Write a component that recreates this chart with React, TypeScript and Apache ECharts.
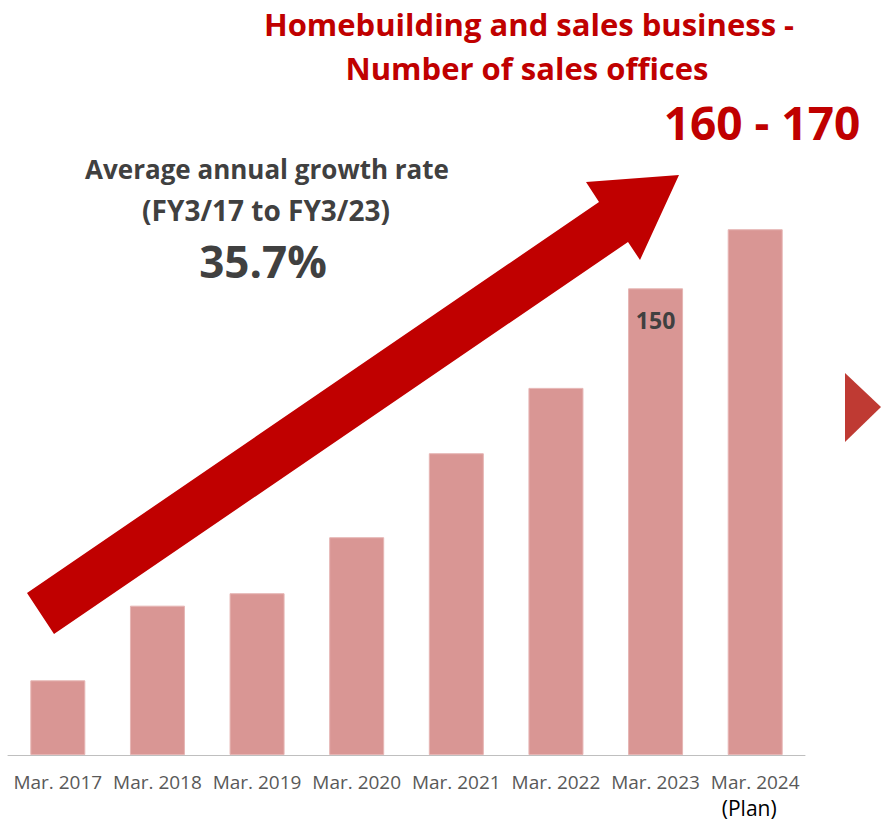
import React, { useEffect, useRef } from "react";
import * as echarts from "echarts";

const categories = [
  "Mar. 2017",
  "Mar. 2018",
  "Mar. 2019",
  "Mar. 2020",
  "Mar. 2021",
  "Mar. 2022",
  "Mar. 2023",
  "Mar. 2024",
];
const offices = [24, 48, 52, 70, 97, 118, 150, 169];
const labeledIndex = 6;
const planIndex = 7;
const planText = "(Plan)";
const titleLines = ["Homebuilding and sales business -", "Number of sales offices"];
const targetText = "160 - 170";
const growthLines = ["Average annual growth rate", "(FY3/17 to FY3/23)"];
const growthValue = "35.7%";

const FONT = "'Open Sans', 'Noto Sans', sans-serif";

export default function App() {
  const ref = useRef<HTMLDivElement>(null);
  useEffect(() => {
    document.body.style.margin = "0";
    if (!ref.current) return;
    const chart = echarts.init(ref.current, undefined, { renderer: "svg" });
    chart.setOption({
      animation: false,
      backgroundColor: "#ffffff",
      grid: { left: 8, right: 76, top: 195, bottom: 66 },
      xAxis: {
        type: "category",
        data: categories,
        axisTick: { show: false },
        axisLine: { lineStyle: { color: "#bfbfbf", width: 1 } },
        axisLabel: {
          interval: 0,
          color: "#595959",
          fontSize: 19,
          fontFamily: FONT,
          margin: 15,
          lineHeight: 24,
          formatter: (v: string, i: number) => (i === planIndex ? `${v}\n{plan|${planText}}` : v),
          rich: {
            plan: { color: "#000000", fontSize: 21, lineHeight: 28, fontFamily: FONT, padding: [0, 12, 0, 0] },
          },
        },
      },
      yAxis: { type: "value", min: 0, max: 180, show: false, splitLine: { show: false } },
      series: [
        {
          type: "bar",
          barWidth: 55,
          itemStyle: { color: "#d99694", borderColor: "#e6b5b4", borderWidth: 1 },
          data: offices.map((v, i) =>
            i === labeledIndex
              ? {
                  value: v,
                  label: {
                    show: true,
                    position: "insideTop",
                    distance: 20,
                    color: "#404040",
                    fontSize: 23,
                    fontWeight: "bold",
                    fontFamily: FONT,
                  },
                }
              : v
          ),
        },
      ],
      graphic: [
        {
          type: "polygon",
          z: 100,
          shape: {
            points: [
              [27, 593],
              [599, 202],
              [586, 182],
              [679, 175],
              [640, 260],
              [628, 242],
              [54, 634],
            ],
          },
          style: { fill: "#c00000" },
        },
        {
          type: "polygon",
          z: 100,
          shape: { points: [[845, 373], [881, 407], [845, 442]] },
          style: { fill: "#bf3a33" },
        },
        {
          type: "text",
          x: 529,
          y: 24,
          style: {
            text: titleLines[0],
            fill: "#c00000",
            font: `bold 31px ${FONT}`,
            textAlign: "center",
            textVerticalAlign: "middle",
          },
        },
        {
          type: "text",
          x: 527,
          y: 68,
          style: {
            text: titleLines[1],
            fill: "#c00000",
            font: `bold 31px ${FONT}`,
            textAlign: "center",
            textVerticalAlign: "middle",
          },
        },
        {
          type: "text",
          x: 762,
          y: 122,
          style: {
            text: targetText,
            fill: "#c00000",
            font: `bold 46px ${FONT}`,
            textAlign: "center",
            textVerticalAlign: "middle",
          },
        },
        {
          type: "text",
          x: 267,
          y: 169,
          style: {
            text: growthLines[0],
            fill: "#404040",
            font: `bold 26px ${FONT}`,
            textAlign: "center",
            textVerticalAlign: "middle",
          },
        },
        {
          type: "text",
          x: 266,
          y: 210,
          style: {
            text: growthLines[1],
            fill: "#404040",
            font: `bold 28px ${FONT}`,
            textAlign: "center",
            textVerticalAlign: "middle",
          },
        },
        {
          type: "text",
          x: 263,
          y: 261,
          style: {
            text: growthValue,
            fill: "#404040",
            font: `bold 44px ${FONT}`,
            textAlign: "center",
            textVerticalAlign: "middle",
          },
        },
      ],
    });
    return () => chart.dispose();
  }, []);
  return <div ref={ref} style={{ width: 881, height: 822 }} />;
}
